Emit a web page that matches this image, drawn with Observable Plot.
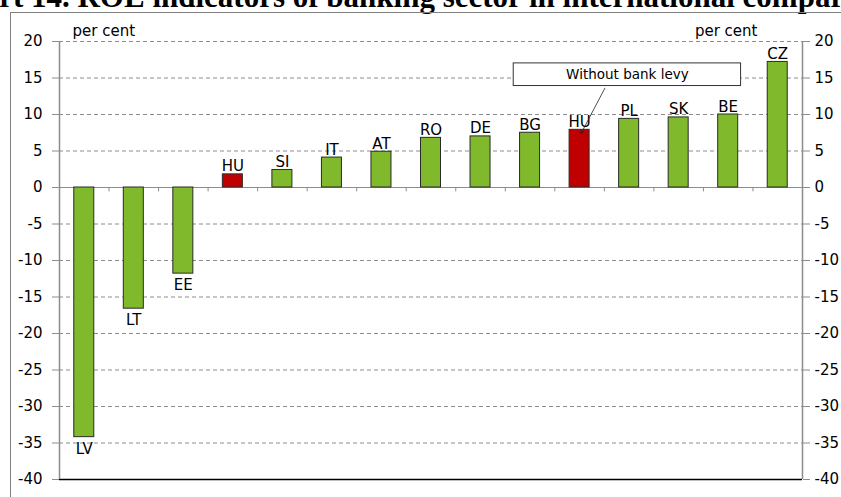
<!DOCTYPE html>
<html>
<head>
<meta charset="utf-8">
<script src="https://cdn.jsdelivr.net/npm/d3@7"></script>
<script src="https://cdn.jsdelivr.net/npm/@observablehq/plot@0.6"></script>
<style>
  html, body { margin: 0; padding: 0; background: #fff; overflow: hidden; width: 841px; height: 497px; }
  #wrap { position: relative; width: 841px; height: 497px; overflow: hidden; }
  #title { position: absolute; left: -56px; top: -19px; white-space: nowrap;
           font-family: "Liberation Serif", serif; font-weight: bold; font-size: 31px; line-height: 31px; color: #000; }
  #frame { position: absolute; left: 10px; top: 12px; width: 1000px; height: 1000px;
           border-left: 1px solid #808080; border-top: 1px solid #808080; }
  #chart { position: absolute; left: 0; top: 0; }
</style>
</head>
<body>
<div id="wrap">
  <div id="title">Chart 14. ROE indicators of banking sector in international comparison</div>
  <div id="frame"></div>
  <div id="chart"></div>
</div>
<script>
const countries = ["LV","LT","EE","HU","SI","IT","AT","RO","DE","BG","HU","PL","SK","BE","CZ"];
const roe = [-34.2, -16.6, -11.8, 1.8, 2.4, 4.1, 4.9, 6.8, 7.0, 7.5, 7.9, 9.4, 9.6, 10.0, 17.2];
const highlighted = [false, false, false, true, false, false, false, false, false, false, true, false, false, false, false];
const yTicks = [-40, -35, -30, -25, -20, -15, -10, -5, 0, 5, 10, 15, 20];
const unitLabel = "per cent";
const annotation = [{label: "Without bank levy", x1: 8.67, x2: 13.26, y1: 13.9, y2: 17.0, ax1: 10.51, ay1: 13.6, ax2: 10.03, ay2: 7.4}];

const green = "#80B92B", red = "#C00000";
const data = countries.map((c, i) => ({i, country: c, value: roe[i], hu: highlighted[i]}));
const boundaries = d3.range(countries.length - 1).map(i => i + 0.5);
const fmt = d => String(d);

const chart = Plot.plot({
  width: 841,
  height: 497,
  marginLeft: 59,
  marginRight: 39,
  marginTop: 41,
  marginBottom: 18,
  x: {domain: [-0.5, countries.length - 0.5], axis: null},
  y: {domain: [-40, 20], axis: null, label: null},
  style: {fontFamily: "DejaVu Sans", fontSize: "15px", color: "#000", background: "transparent", overflow: "visible"},
  marks: [
    Plot.ruleY(yTicks.filter(t => t !== 0 && t !== -40), {stroke: "#8c8c8c", strokeDasharray: "4,3", strokeWidth: 1}),
    Plot.axisY(yTicks, {anchor: "left", tickSize: 7, tickPadding: 10, tickFormat: fmt, stroke: "#8c8c8c", fontSize: 15}),
    Plot.axisY(yTicks, {anchor: "right", tickSize: 7, tickPadding: 5, tickFormat: fmt, stroke: "#8c8c8c", fontSize: 15}),
    Plot.ruleY([0], {stroke: "#8c8c8c", strokeWidth: 1.2}),
    Plot.ruleX(boundaries, {x: d => d, y1: 0, y2: -0.6, stroke: "#8c8c8c"}),
    Plot.ruleY([-40], {stroke: "#000", strokeWidth: 1.5}),
    Plot.ruleX([-0.5, countries.length - 0.5], {stroke: "#8c8c8c", strokeWidth: 1.5}),
    Plot.rectY(data, {x1: d => d.i - 0.202, x2: d => d.i + 0.202, y: "value",
      fill: d => d.hu ? red : green, stroke: "#2a2a2a", strokeWidth: 1}),
    Plot.text(data.filter(d => d.value >= 0), {x: "i", y: "value", text: "country", lineAnchor: "bottom", dy: -3, fontSize: 15}),
    Plot.text(data.filter(d => d.value < 0), {x: "i", y: "value", text: "country", lineAnchor: "top", dy: 6, fontSize: 15}),
    Plot.rect(annotation, {x1: "x1", x2: "x2", y1: "y1", y2: "y2", fill: "white", stroke: "#333", strokeWidth: 1}),
    Plot.text(annotation, {x: d => (d.x1 + d.x2) / 2, y: d => (d.y1 + d.y2) / 2, text: "label", fontSize: 13.5}),
    Plot.arrow(annotation, {x1: "ax1", y1: "ay1", x2: "ax2", y2: "ay2", stroke: "#222", strokeWidth: 0.8, headLength: 6, inset: 0}),
    Plot.text([unitLabel], {frameAnchor: "top-left", text: d => d, textAnchor: "start", lineAnchor: "bottom", dx: 13, dy: -6, fontSize: 15}),
    Plot.text([unitLabel], {frameAnchor: "top-right", text: d => d, textAnchor: "end", lineAnchor: "bottom", dx: -45, dy: -6, fontSize: 15})
  ]
});
document.getElementById("chart").appendChild(chart);
</script>
</body>
</html>
